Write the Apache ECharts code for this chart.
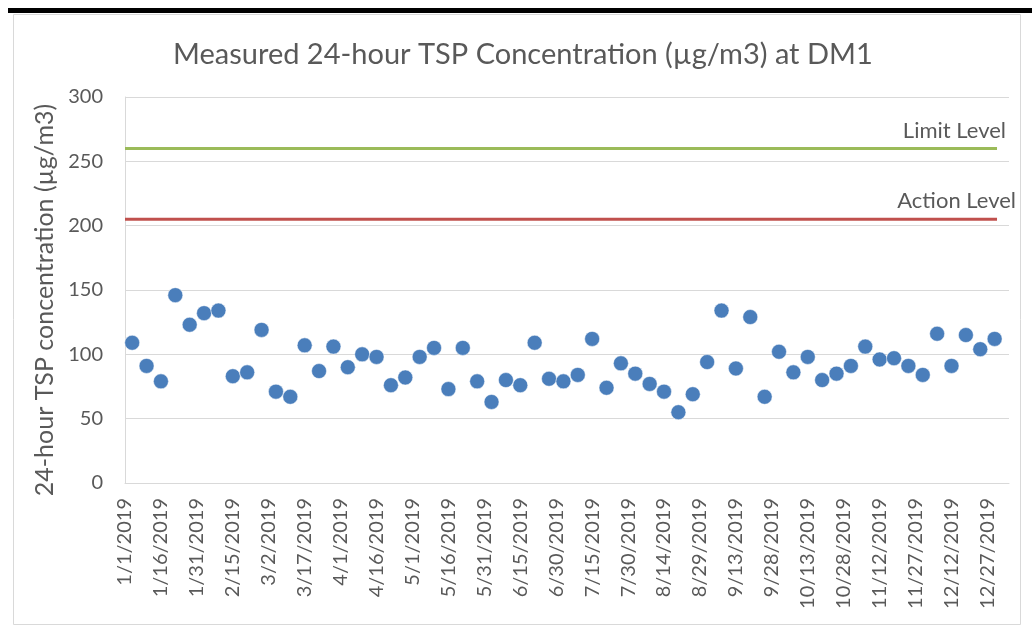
<!DOCTYPE html>
<html>
<head>
<meta charset="utf-8">
<script src="https://cdn.jsdelivr.net/npm/echarts@6/dist/echarts.min.js"></script>
<style>
  html, body { margin: 0; padding: 0; background: #fff; }
  #chart { width: 1032px; height: 630px; }
</style>
</head>
<body>
<div id="chart"></div>
<script>
// sampling dates (every 6th day) and measured TSP values
var sampleDates = ['1/4/2019', '1/10/2019', '1/16/2019', '1/22/2019', '1/28/2019', '2/3/2019', '2/9/2019', '2/15/2019',
    '2/21/2019', '2/27/2019', '3/5/2019', '3/11/2019', '3/17/2019', '3/23/2019', '3/29/2019', '4/4/2019', '4/10/2019',
    '4/16/2019', '4/22/2019', '4/28/2019', '5/4/2019', '5/10/2019', '5/16/2019', '5/22/2019', '5/28/2019', '6/3/2019',
    '6/9/2019', '6/15/2019', '6/21/2019', '6/27/2019', '7/3/2019', '7/9/2019', '7/15/2019', '7/21/2019', '7/27/2019',
    '8/2/2019', '8/8/2019', '8/14/2019', '8/20/2019', '8/26/2019', '9/1/2019', '9/7/2019', '9/13/2019', '9/19/2019',
    '9/25/2019', '10/1/2019', '10/7/2019', '10/13/2019', '10/19/2019', '10/25/2019', '10/31/2019', '11/6/2019',
    '11/12/2019', '11/18/2019', '11/24/2019', '11/30/2019', '12/6/2019', '12/12/2019', '12/18/2019', '12/24/2019',
    '12/30/2019'];
var tspValues = [109, 91, 79, 146, 123, 132, 134, 83, 86, 119, 71, 67, 107, 87, 106, 90, 100, 98, 76, 82,
    98, 105, 73, 105, 79, 63, 80, 76, 109, 81, 79, 84, 112, 74, 93, 85, 77, 71, 55, 69,
    94, 134, 89, 129, 67, 102, 86, 98, 80, 85, 91, 106, 96, 97, 91, 84, 116, 91, 115, 104, 112];

// criteria lines
var lineDates = ['1/1/2019', '12/31/2019'];
var limitLevel = [260, 260];
var actionLevel = [205, 205];

var yTicks = [0, 50, 100, 150, 200, 250, 300];

var textColor = '#595959';
var fontName = 'Lato';

// day number since 1 Jan 2019
function dayOf(s) {
    var p = s.split('/');
    return Math.round((Date.UTC(+p[2], +p[0] - 1, +p[1]) - Date.UTC(2019, 0, 1)) / 86400000);
}
function dayLabel(v) {
    if (v % 15 !== 0) return '';
    var d = new Date(Date.UTC(2019, 0, 1) + v * 86400000);
    return (d.getUTCMonth() + 1) + '/' + d.getUTCDate() + '/' + d.getUTCFullYear();
}

var scatterData = sampleDates.map(function (s, i) { return [dayOf(s), tspValues[i]]; });

function levelData(vals, name, dx) {
    return lineDates.map(function (s, i) {
        var item = { value: [dayOf(s), vals[i]] };
        if (i === lineDates.length - 1) {
            item.label = {
                show: true, formatter: name, position: 'top', align: 'right',
                offset: [dx, -2], color: textColor, fontSize: 22, fontFamily: fontName
            };
        }
        return item;
    });
}

var chart = echarts.init(document.getElementById('chart'));

var option = {
    backgroundColor: '#fff',
    animation: false,
    title: {
        text: 'Measured 24-hour TSP Concentration (µg/m3) at DM1',
        left: 168,
        top: 35,
        textStyle: { color: textColor, fontSize: 29, fontWeight: 'normal', fontFamily: fontName }
    },
    graphic: [
        { type: 'rect', shape: { x: 13.5, y: 14.5, width: 1007, height: 610 }, style: { fill: null, stroke: '#d9d9d9', lineWidth: 1 } },
        { type: 'rect', shape: { x: 8, y: 8, width: 1024, height: 5 }, style: { fill: '#000' } }
    ],
    grid: { left: 125, right: 23, top: 97, bottom: 147 },
    xAxis: {
        type: 'value',
        min: 0,
        max: 369,
        interval: 15,
        splitLine: { show: false },
        axisTick: { show: false },
        axisLine: { lineStyle: { color: '#d9d9d9' } },
        axisLabel: {
            rotate: 90, margin: 15, showMaxLabel: false,
            color: textColor, fontSize: 20, fontFamily: fontName,
            formatter: dayLabel
        }
    },
    yAxis: {
        type: 'value',
        min: yTicks[0],
        max: yTicks[yTicks.length - 1],
        interval: 50,
        name: '24-hour TSP concentration (µg/m3)',
        nameLocation: 'middle',
        nameGap: 68,
        nameTextStyle: { color: textColor, fontSize: 25, fontFamily: fontName, padding: [0, 20, 0, 0] },
        axisLine: { show: true, lineStyle: { color: '#d9d9d9' } },
        axisTick: { show: false },
        splitLine: { lineStyle: { color: '#d9d9d9', width: 1 } },
        axisLabel: { margin: 22, color: textColor, fontSize: 20, fontFamily: fontName }
    },
    series: [
        {
            name: 'Limit Level',
            type: 'line',
            data: levelData(limitLevel, 'Limit Level', 9),
            symbol: 'circle',
            symbolSize: 0,
            lineStyle: { color: '#9bbb59', width: 3 },
            itemStyle: { color: '#9bbb59' }
        },
        {
            name: 'Action Level',
            type: 'line',
            data: levelData(actionLevel, 'Action Level', 19),
            symbol: 'circle',
            symbolSize: 0,
            lineStyle: { color: '#c0504d', width: 3 },
            itemStyle: { color: '#c0504d' }
        },
        {
            name: 'TSP',
            type: 'scatter',
            data: scatterData,
            symbolSize: 15,
            itemStyle: { color: '#4a7ebb', opacity: 1, borderColor: '#fff', borderWidth: 0.5 }
        }
    ]
};

chart.setOption(option);
window.addEventListener('resize', function () {
    chart.resize();
});
</script>
</body>
</html>
